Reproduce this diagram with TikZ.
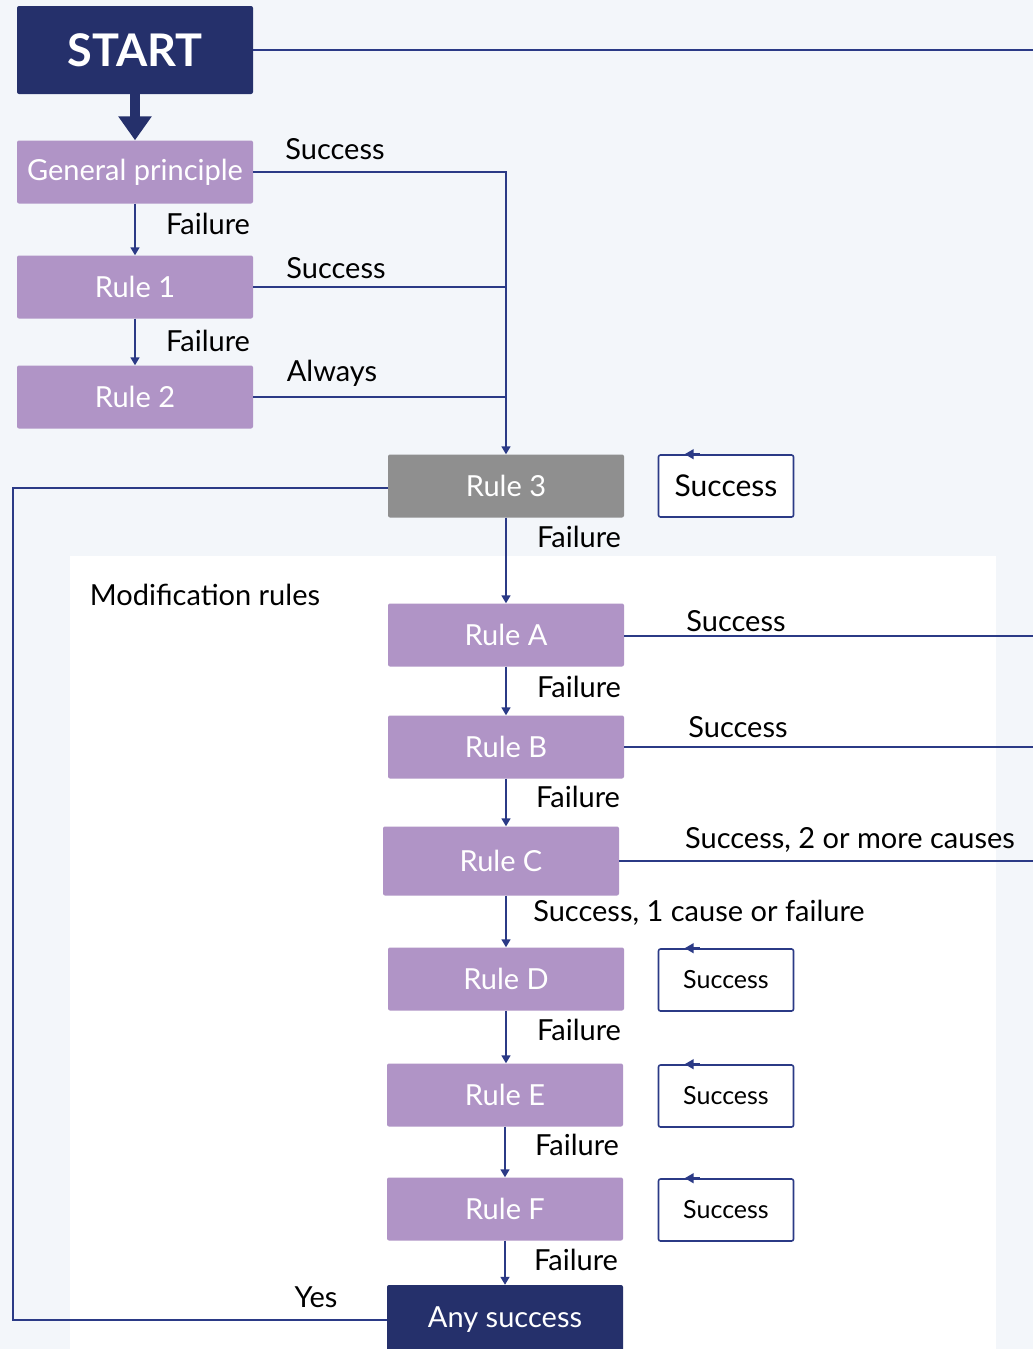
\documentclass[tikz,border=0pt]{standalone}
\usepackage{fontspec}
\setmainfont{Lato}
\usetikzlibrary{arrows.meta,calc}
\definecolor{bgc}{HTML}{F3F6FA}
\definecolor{navy}{HTML}{25306B}
\definecolor{lnc}{HTML}{2B3A86}
\definecolor{purp}{HTML}{B094C6}
\definecolor{grayr}{HTML}{8F8F8F}
\newcommand{\fsz}[1]{\fontsize{#1}{#1}\selectfont}
\tikzset{
  rulebox/.style={fill=purp, text=white, rounded corners=2pt, minimum width=236, minimum height=63, inner sep=0, font=\fsz{29}},
  navybox/.style={fill=navy, text=white, rounded corners=2pt, minimum width=236, inner sep=0},
  succbox/.style={draw=lnc, fill=white, line width=1.6pt, rounded corners=2pt, minimum width=135, minimum height=62, inner sep=0, text=black},
  conn/.style={draw=lnc, line width=1.6pt},
  arr/.style={conn, -{Triangle[length=8pt,width=9pt]}},
  lbl/.style={text=black, font=\fsz{29}, inner sep=0},
  smalltip/.style={draw=lnc, line width=1.6pt, -{Triangle[length=9pt,width=10pt]}}
}
\begin{document}
\begin{tikzpicture}[x=1pt,y=-1pt]
\fill[bgc] (0,0) rectangle (1033,1349);
\useasboundingbox (0,0) rectangle (1033,1349);
\fill[white] (70,556) rectangle (996,1349);

% nodes
\node[navybox, minimum height=88, font=\fsz{45}\bfseries] (start) at (135,50) {START};
\node[rulebox] (gp) at (135,172) {General principle};
\node[rulebox] (r1) at (135,287) {Rule 1};
\node[rulebox] (r2) at (135,397) {Rule 2};
\node[rulebox, fill=grayr] (r3) at (506,486) {Rule 3};
\node[succbox, font=\fsz{30}] (s3) at (726,486) {Success};
\node[rulebox] (ra) at (506,635) {Rule A};
\node[rulebox] (rb) at (506,747) {Rule B};
\node[rulebox, minimum height=69] (rc) at (501,861) {Rule C};
\node[rulebox] (rd) at (506,979) {Rule D};
\node[succbox, font=\fsz{25}] (sd) at (726,980) {Success};
\node[rulebox] (re) at (505,1095) {Rule E};
\node[succbox, font=\fsz{25}] (se) at (726,1096) {Success};
\node[rulebox] (rf) at (505,1209) {Rule F};
\node[succbox, font=\fsz{25}] (sf) at (726,1210) {Success};
\node[navybox, minimum height=70, font=\fsz{29}] (any) at (505,1320) {Any success};

\coordinate (startend) at (1033,50);
\coordinate (rightend) at (1033,0);
\coordinate (leftx) at (13,0);

% labels
\node[lbl] at (335,149) {Success};
\node[lbl] at (208,224) {Failure};
\node[lbl] at (336,268) {Success};
\node[lbl] at (208,341) {Failure};
\node[lbl] at (332,373) {Always};
\node[lbl] at (579,537) {Failure};
\node[lbl] at (205,595) {Modification rules};
\node[lbl] at (736,621) {Success};
\node[lbl] at (579,687) {Failure};
\node[lbl] at (738,727) {Success};
\node[lbl] at (578,797) {Failure};
\node[lbl] at (850,840) {Success, 2 or more causes};
\node[lbl] at (699,913) {Success, 1 cause or failure};
\node[lbl] at (579,1030) {Failure};
\node[lbl] at (577,1145) {Failure};
\node[lbl] at (576,1260) {Failure};
\node[lbl] at (316,1297) {Yes};

% connectors
\draw[draw=navy, line width=10pt, -{Triangle[length=24pt,width=32pt]}] (start.south) -- (gp.north);
\draw[conn] (start.east) -- (startend);
\draw[arr] (gp.south) -- (r1.north);
\draw[arr] (r1.south) -- (r2.north);
\draw[arr] (gp.east) -| (r3.north);
\draw[conn] (r1.east) -- (r1.east -| r3.north);
\draw[conn] (r2.east) -- (r2.east -| r3.north);
\draw[conn] ([yshift=-2pt]r3.west) -- ([yshift=-2pt]r3.west -| leftx) |- (any.west);
\draw[arr] (r3.south) -- (ra.north);
\draw[arr] (ra.south) -- (rb.north);
\draw[arr] (rb.south) -- (rb.south |- rc.north);
\draw[arr] (rc.south -| rd.north) -- (rd.north);
\draw[arr] (rd.south) -- (rd.south |- re.north);
\draw[arr] (re.south) -- (rf.north);
\draw[arr] (rf.south) -- (any.north);
\draw[conn] ([yshift=-1pt]ra.east) -- ([yshift=-1pt]ra.east -| rightend);
\draw[conn] (rb.east) -- (rb.east -| rightend);
\draw[conn] (rc.east) -- (rc.east -| rightend);

% arrow tips on success boxes
\foreach \s in {s3,sd,se,sf}{
  \draw[smalltip] ([xshift=42pt]\s.north west) -- ([xshift=27pt]\s.north west);
}
\end{tikzpicture}
\end{document}
